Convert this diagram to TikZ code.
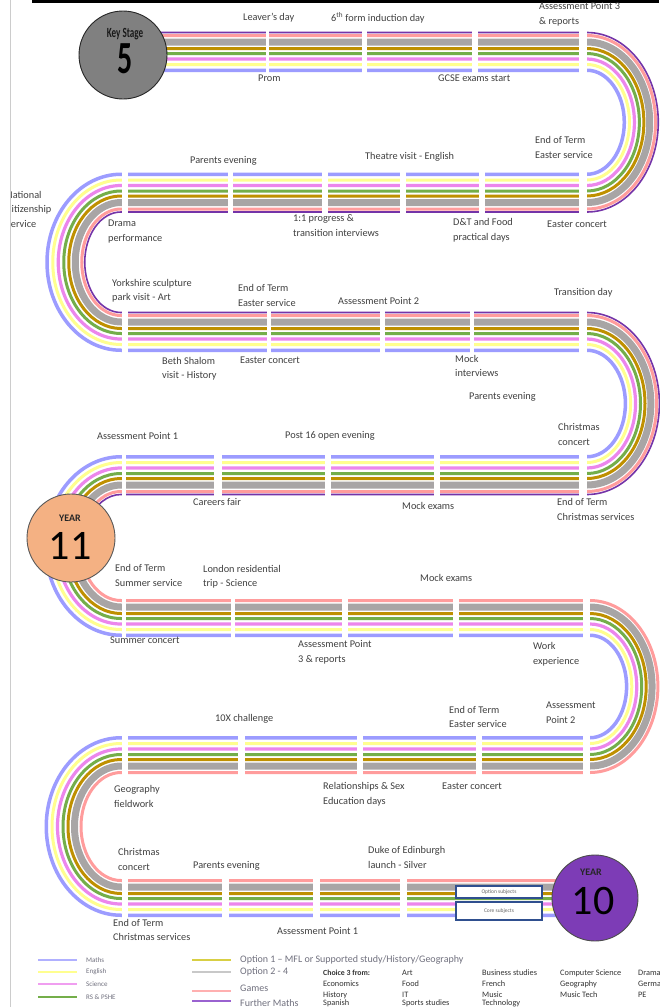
\documentclass[tikz,border=0pt]{standalone}
\usepackage{fontspec}
\setmainfont{Carlito}
\newfontfamily\condfont[FakeStretch=0.65]{Carlito}
\definecolor{sblue}{HTML}{9C9CFF}
\definecolor{syellow}{HTML}{FFFF8F}
\definecolor{smag}{HTML}{EC86EC}
\definecolor{sgreen}{HTML}{74AE4A}
\definecolor{sgold}{HTML}{BF9000}
\definecolor{sgray}{HTML}{A8A5A5}
\definecolor{spink}{HTML}{FF9C9C}
\definecolor{spurple}{HTML}{7434A8}
\definecolor{labgray}{HTML}{404040}
\definecolor{leggray}{HTML}{70707E}
\definecolor{ksgray}{HTML}{808080}
\definecolor{yelevenfill}{HTML}{F4B183}
\definecolor{ytenfill}{HTML}{7D3CB6}
\definecolor{boxblue}{HTML}{2F4F8F}
\definecolor{optone}{HTML}{D8CF44}
\definecolor{opttwo}{HTML}{C8C8C8}
\definecolor{lgpink}{HTML}{FFB0B0}
\definecolor{lgpurple}{HTML}{9A62D0}
\tikzset{
  lab/.style={anchor=west, align=left, inner sep=0pt, text=labgray,
    font=\fontsize{10.3}{14.5}\selectfont},
  leglab/.style={anchor=west, inner sep=0pt, text=leggray, font=\fontsize{7}{8}\selectfont},
  leglabb/.style={anchor=west, inner sep=0pt, text=leggray, font=\fontsize{10}{11}\selectfont},
  tablab/.style={anchor=west, inner sep=0pt, text=black!80, font=\fontsize{8.3}{9}\selectfont},
  legline/.style={line width=2.2pt},
  subjbox/.style={draw=boxblue, line width=1.2pt, fill=white, minimum width=86pt, inner sep=0pt,
    text=black!60, font=\fontsize{5.5}{6}\selectfont},
  gap/.style={fill=white}
}
\begin{document}
\begin{tikzpicture}[x=1pt,y=1pt]
\useasboundingbox (0,0) rectangle (659,-1007);
\fill[white] (0,0) rectangle (659,-1007);
% frame lines
\fill[black] (32,0) rectangle (659,-2.5);
\draw[black!20, line width=0.8pt] (10.5,0) -- (10.5,-1007);

% stripes
\foreach \col/\off/\wid in {sblue/1.75/3.5, syellow/7.5/3, smag/13/3.2, sgreen/18.5/3, sgold/23.5/3, sgray/30/7, spink/36.5/3}{
  \pgfmathsetmacro\rA{50.25+\off}
  \pgfmathsetmacro\rB{89.75-\off}
  \pgfmathsetmacro\rC{51.5+\off}
  \pgfmathsetmacro\rD{91-\off}
  \pgfmathsetmacro\rE{49.5+\off}
  \pgfmathsetmacro\rF{90.5-\off}
  \draw[\col, line width=\wid pt] (150,\off-72) -- (587,\off-72)
    arc[start angle=90,end angle=-90,x radius=0.9*\rA-9.5,y radius=\rA]
    -- (121,-172.5-\off)
    arc[start angle=90,end angle=270,x radius=\rB-14,y radius=\rB]
    -- (587,\off-352)
    arc[start angle=90,end angle=-90,x radius=0.9*\rC-9.5,y radius=\rC]
    -- (121,-455-\off)
    arc[start angle=90,end angle=270,x radius=\rD-14,y radius=\rD]
    -- (590,\off-637)
    arc[start angle=90,end angle=-90,x radius=0.9*\rE-9.5,y radius=\rE]
    -- (121,-736-\off)
    arc[start angle=90,end angle=270,x radius=\rF-14,y radius=\rF]
    -- (585,\off-917);
}
\draw[spurple, line width=1.6pt] (150,-32.5) -- (587,-32.5)
    arc[start angle=90,end angle=-90,x radius=0.9*89.75-9.5,y radius=89.75]
    -- (121,-212)
    arc[start angle=90,end angle=270,x radius=50.25-14,y radius=50.25]
    -- (587,-312.5)
    arc[start angle=90,end angle=-90,x radius=0.9*91-9.5,y radius=91]
    -- (121,-494.5)
    arc[start angle=90,end angle=195,x radius=51.5-14,y radius=51.5];

% white gaps
\foreach \a/\b in {266/269, 362/367, 472/478, 579/587}{\fill[gap] (\a,-28) rectangle (\b,-76);}
\foreach \a/\b in {121.6/128, 228/233, 322/328, 400/406, 479/485, 579/587}{\fill[gap] (\a,-168) rectangle (\b,-217);}
\foreach \a/\b in {121.6/128, 267/271, 380/385, 470/474, 579/587}{\fill[gap] (\a,-308) rectangle (\b,-356);}
\foreach \a/\b in {121.6/126, 214/222, 325/331, 434/440, 579/587}{\fill[gap] (\a,-451) rectangle (\b,-499);}
\foreach \a/\b in {121.6/126, 231/235, 342/348, 453/459, 583/590}{\fill[gap] (\a,-593) rectangle (\b,-641);}
\foreach \a/\b in {121.6/128, 238/245, 357/363, 476/482, 583/590}{\fill[gap] (\a,-732) rectangle (\b,-780);}
\foreach \a/\b in {121.6/128, 222/229, 313/320, 400/407}{\fill[gap] (\a,-873) rectangle (\b,-921);}

% circles
\node[circle, fill=ksgray, draw=black!85, line width=0.9pt, minimum size=88pt, inner sep=0pt] (ks5) at (123,-55) {};
\node[inner sep=0pt, text=black!90] (ks5a) at (125,-34) {\condfont\bfseries\fontsize{14}{14}\selectfont Key Stage};
\node[inner sep=0pt, text=black] (ks5b) at (125,-59) {\condfont\bfseries\fontsize{46}{46}\selectfont 5};

\node[circle, fill=yelevenfill, draw=black!65, line width=0.9pt, minimum size=88pt, inner sep=0pt] (y11) at (71,-538) {};
\node[inner sep=0pt, text=black!85] (y11a) at (70,-518) {\bfseries\fontsize{10}{10}\selectfont YEAR};
\node[inner sep=0pt, text=black] (y11b) at (70,-546) {\fontsize{42}{42}\selectfont 11};

\node[circle, fill=ytenfill, draw=black!70, line width=0.9pt, minimum size=86pt, inner sep=0pt] (y10) at (595,-898) {};
\node[inner sep=0pt, text=black!85] (y10a) at (591,-872) {\bfseries\fontsize{10}{10}\selectfont YEAR};
\node[inner sep=0pt, text=black] (y10b) at (593,-901) {\fontsize{42}{42}\selectfont 10};

% subject boxes
\node[subjbox, minimum height=12pt] (optbox) at (499,-892) {Option subjects};
\node[subjbox, minimum height=18pt] (corebox) at (499,-911) {Core subjects};

% labels
\node[lab] (l1) at (243,-18) {Leaver's day};
\node[lab] (l2) at (331,-18) {6\textsuperscript{th} form induction day};
\node[lab] (l3) at (539,-14.5) {Assessment Point 3\\\& reports};
\node[lab] (l4) at (258,-78) {Prom};
\node[lab] (l5) at (438,-78) {GCSE exams start};
\node[lab] (l6) at (190,-160.5) {Parents evening};
\node[lab] (l7) at (365,-157) {Theatre visit - English};
\node[lab] (l8) at (535,-147.5) {End of Term\\Easter service};
\begin{scope}
\clip (11,-180) rectangle (120,-235);
\node[lab] (l9) at (6,-209) {National\\Citizenship\\Service};
\end{scope}
\node[lab] (l10) at (108,-231.5) {Drama\\performance};
\node[lab] (l11) at (293,-225.5) {1:1 progress \&\\transition interviews};
\node[lab] (l12) at (453,-230) {D\&T and Food\\practical days};
\node[lab] (l13) at (547,-224) {Easter concert};
\node[lab] (l14) at (112,-290.5) {Yorkshire sculpture\\park visit - Art};
\node[lab] (l15) at (238,-295.5) {End of Term\\Easter service};
\node[lab] (l16) at (338,-301) {Assessment Point 2};
\node[lab] (l17) at (554,-293) {Transition day};
\node[lab] (l18) at (162,-368.5) {Beth Shalom\\visit - History};
\node[lab] (l19) at (240,-360) {Easter concert};
\node[lab] (l20) at (455,-366) {Mock\\interviews};
\node[lab] (l21) at (469,-397) {Parents evening};
\node[lab] (l22) at (558,-434.5) {Christmas\\concert};
\node[lab] (l23) at (97,-436) {Assessment Point 1};
\node[lab] (l24) at (285,-436) {Post 16 open evening};
\node[lab] (l25) at (193,-502) {Careers fair};
\node[lab] (l26) at (402,-506) {Mock exams};
\node[lab] (l27) at (557,-509.5) {End of Term\\Christmas services};
\node[lab] (l28) at (115,-575.5) {End of Term\\Summer service};
\node[lab] (l29) at (203,-576.5) {London residential\\trip - Science};
\node[lab] (l30) at (420,-578) {Mock exams};
\node[lab] (l31) at (110,-640) {Summer concert};
\node[lab] (l32) at (298,-652.5) {Assessment Point\\3 \& reports};
\node[lab] (l33) at (533,-654) {Work\\experience};
\node[lab] (l34) at (215,-719) {10X challenge};
\node[lab] (l35) at (449,-717) {End of Term\\Easter service};
\node[lab] (l36) at (546,-712.5) {Assessment\\Point 2};
\node[lab] (l37) at (114,-796.5) {Geography\\fieldwork};
\node[lab] (l38) at (323,-794) {Relationships \& Sex\\Education days};
\node[lab] (l39) at (442,-786) {Easter concert};
\node[lab] (l40) at (118,-859.5) {Christmas\\concert};
\node[lab] (l41) at (193,-866) {Parents evening};
\node[lab] (l42) at (368,-857.5) {Duke of Edinburgh\\launch - Silver};
\node[lab] (l43) at (113,-930) {End of Term\\Christmas services};
\node[lab] (l44) at (277,-931) {Assessment Point 1};

% legend
\coordinate (m1a) at (38,-960); \coordinate (m1b) at (77,-960);
\coordinate (m2a) at (38,-972); \coordinate (m2b) at (77,-972);
\coordinate (m3a) at (38,-984); \coordinate (m3b) at (77,-984);
\coordinate (m4a) at (38,-997); \coordinate (m4b) at (77,-997);
\draw[legline, sblue!80] (m1a) -- (m1b);
\draw[legline, syellow] (m2a) -- (m2b);
\draw[legline, smag!80] (m3a) -- (m3b);
\draw[legline, sgreen] (m4a) -- (m4b);
\node[leglab] (g1) at (86,-960) {Maths};
\node[leglab] (g2) at (86,-972) {English};
\node[leglab] (g3) at (86,-984) {Science};
\node[leglab] (g4) at (86,-997) {RS \& PSHE};
\coordinate (n1a) at (192,-960); \coordinate (n1b) at (231,-960);
\coordinate (n2a) at (192,-972); \coordinate (n2b) at (231,-972);
\coordinate (n3a) at (192,-991); \coordinate (n3b) at (231,-991);
\coordinate (n4a) at (192,-1001); \coordinate (n4b) at (231,-1001);
\draw[legline, optone] (n1a) -- (n1b);
\draw[legline, opttwo] (n2a) -- (n2b);
\draw[legline, lgpink] (n3a) -- (n3b);
\draw[legline, lgpurple] (n4a) -- (n4b);
\node[leglabb] (h1) at (240,-960) {Option 1 – MFL or Supported study/History/Geography};
\node[leglabb] (h2) at (240,-972) {Option 2 - 4};
\node[leglabb] (h3) at (240,-988) {Games};
\node[leglabb] (h4) at (240,-1003) {Further Maths};

% options table
\node[tablab, font=\bfseries\fontsize{7.8}{9}\selectfont] (t11) at (323,-973) {Choice 3 from:};
\node[tablab] (t12) at (323,-984) {Economics};
\node[tablab] (t13) at (323,-995) {History};
\node[tablab] (t14) at (323,-1003.5) {Spanish};
\node[tablab] (t21) at (402,-973) {Art};
\node[tablab] (t22) at (402,-984) {Food};
\node[tablab] (t23) at (402,-995) {IT};
\node[tablab] (t24) at (402,-1003.5) {Sports studies};
\node[tablab] (t31) at (482,-973) {Business studies};
\node[tablab] (t32) at (482,-984) {French};
\node[tablab] (t33) at (482,-995) {Music};
\node[tablab] (t34) at (482,-1003.5) {Technology};
\node[tablab] (t41) at (560,-973) {Computer Science};
\node[tablab] (t42) at (560,-984) {Geography};
\node[tablab] (t43) at (560,-995) {Music Tech};
\node[tablab] (t51) at (638,-973) {Drama};
\node[tablab] (t52) at (638,-984) {German};
\node[tablab] (t53) at (638,-995) {PE};
\end{tikzpicture}
\end{document}
